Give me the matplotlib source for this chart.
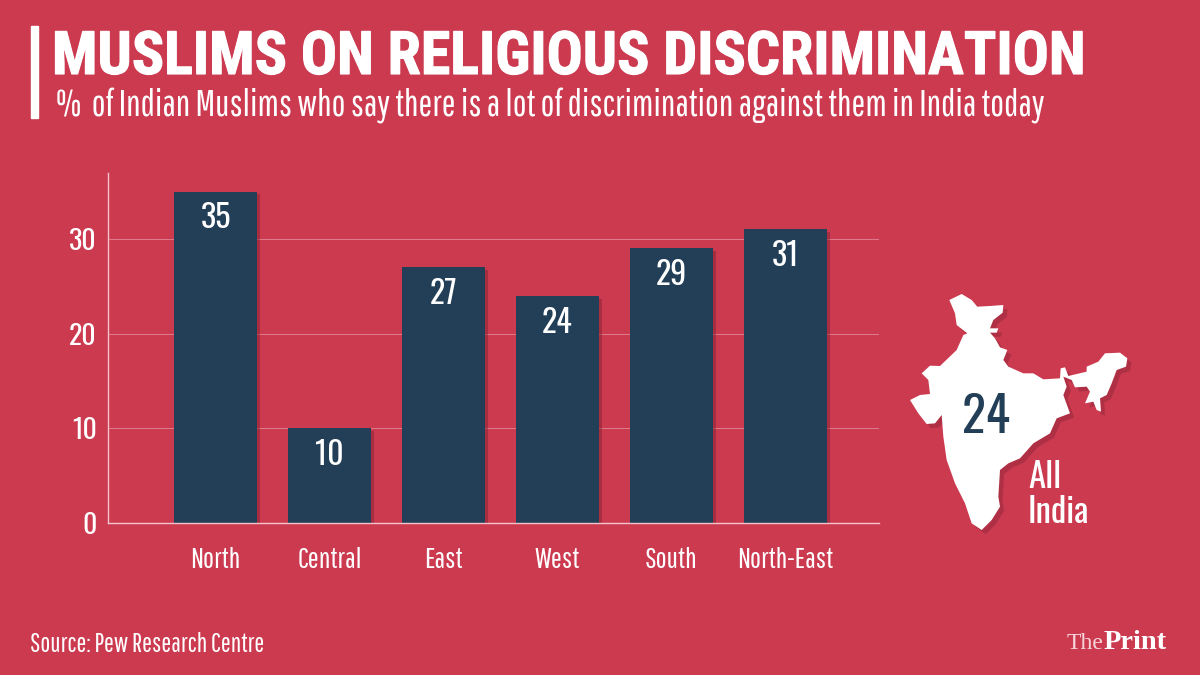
import matplotlib
matplotlib.use("Agg")
import matplotlib.pyplot as plt
import matplotlib.patheffects as pe
from matplotlib.patches import Polygon, Rectangle

regions = ["North", "Central", "East", "West", "South", "North-East"]
values = [35, 10, 27, 24, 29, 31]
y_ticks = [0, 10, 20, 30]

title = "MUSLIMS ON RELIGIOUS DISCRIMINATION"
subtitle = "%  of Indian Muslims who say there is a lot of discrimination against them in India today"
source = "Source: Pew Research Centre"

# outline of the map, in zoom crop pixels
map_x = [178, 215, 245, 262, 300, 340, 338, 310, 300, 325, 320, 300, 315, 330, 352, 340, 355, 400, 430, 460,
         510, 512, 525, 535, 590, 590, 625, 645, 690, 712, 708, 680, 665, 650, 630, 633, 620, 610, 585, 600,
         590, 555, 545, 520, 530, 520, 540, 500, 480, 430, 390, 355, 330, 325, 330, 305, 275, 245, 225, 195,
         170, 160, 155, 135, 110, 85, 60, 90, 120, 115, 95, 120, 150, 200, 220, 232, 200, 195]
map_y = [90, 72, 90, 110, 108, 105, 128, 150, 175, 175, 188, 188, 205, 232, 240, 270, 290, 310, 310, 328,
         325, 295, 292, 318, 305, 290, 275, 250, 248, 265, 290, 300, 340, 375, 385, 425, 420, 395, 400, 365,
         350, 352, 330, 320, 350, 375, 430, 445, 490, 520, 565, 580, 600, 680, 710, 750, 780, 760, 700, 640,
         570, 500, 435, 460, 462, 430, 390, 375, 372, 330, 310, 287, 288, 240, 195, 190, 165, 130]

bg = "#CC3A50"
navy = "#233F57"
title_font = ["Roboto Condensed", "Archivo Narrow", "Oswald", "Liberation Sans", "DejaVu Sans"]
body_font = ["Pathway Gothic One", "Oswald", "Liberation Sans", "DejaVu Sans"]
num_font = ["Oswald", "Liberation Sans", "DejaVu Sans"]
plt.rcParams["font.family"] = body_font

fig = plt.figure(figsize=(12, 6.75), dpi=100, facecolor=bg)

# overlay in pixel coordinates for the title block and the map
over = fig.add_axes([0, 0, 1, 1])
over.set_xlim(0, 1200)
over.set_ylim(675, 0)
over.axis("off")

ax = fig.add_axes([108 / 1200, (675 - 523) / 675, (879 - 108) / 1200, (523 - 173) / 675])
ax.set_facecolor("none")
ax.set_xlim(-0.943, 5.82)
ax.set_ylim(0, 36.96)

for t in y_ticks[1:]:
    ax.axhline(t, color="#DE7C8A", lw=0.7, zorder=1)

bars = ax.bar(range(len(values)), values, width=0.728, color=navy, zorder=2)
for b in bars:
    b.set_path_effects([pe.SimplePatchShadow(offset=(2, -2), shadow_rgbFace="#7A2030", alpha=0.45), pe.Normal()])
for i, v in enumerate(values):
    ax.text(i, v - 1.15, str(v), ha="center", va="top", color="white", fontsize=23, family=num_font, zorder=3)

for s in ["top", "right"]:
    ax.spines[s].set_visible(False)
for s in ["left", "bottom"]:
    ax.spines[s].set_color("#F0C4CA")
    ax.spines[s].set_linewidth(1)

ax.set_yticks(y_ticks)
ax.set_xticks(range(len(regions)))
ax.set_xticklabels(regions)
ax.set_yticklabels(y_ticks, family=num_font)
ax.tick_params(axis="y", length=0, pad=8, labelsize=20, labelcolor="white")
ax.tick_params(axis="x", length=0, pad=17, labelsize=21, labelcolor="white")

# title block
over.add_patch(Rectangle((31, 26), 7, 92, color="white"))
over.text(52, 74, title, fontsize=43.2, family=title_font, fontweight="bold", color="white", va="baseline", ha="left",
          path_effects=[pe.withStroke(linewidth=0.8, foreground="white")])
over.text(56, 117, subtitle, fontsize=26.4, color="white", va="baseline", ha="left")
over.text(30, 652, source, fontsize=19, color="white", va="baseline", ha="left")

over.text(1067, 649, "The", family="Liberation Serif", fontsize=17, color="#F6D5DA", va="baseline", ha="left")
over.text(1104, 649, "Print", family="Liberation Serif", fontsize=20.5, fontweight="bold", color="white", va="baseline", ha="left")

# map
map_pts = [(890 + x / 3, 270 + y / 3) for x, y in zip(map_x, map_y)]
india = Polygon(map_pts, closed=True, facecolor="white", edgecolor="none")
india.set_path_effects([pe.SimplePatchShadow(offset=(3, -3), shadow_rgbFace="#7A2030", alpha=0.35), pe.Normal()])
over.add_patch(india)
over.text(986, 433, "24", fontsize=36, family=num_font, color=navy, ha="center", va="baseline")
over.text(1028, 488, "All", fontsize=25, family=num_font, color="white", va="baseline", ha="left")
over.text(1028, 523, "India", fontsize=25, family=num_font, color="white", va="baseline", ha="left")

fig.savefig("out.png", dpi=100, facecolor=bg)
